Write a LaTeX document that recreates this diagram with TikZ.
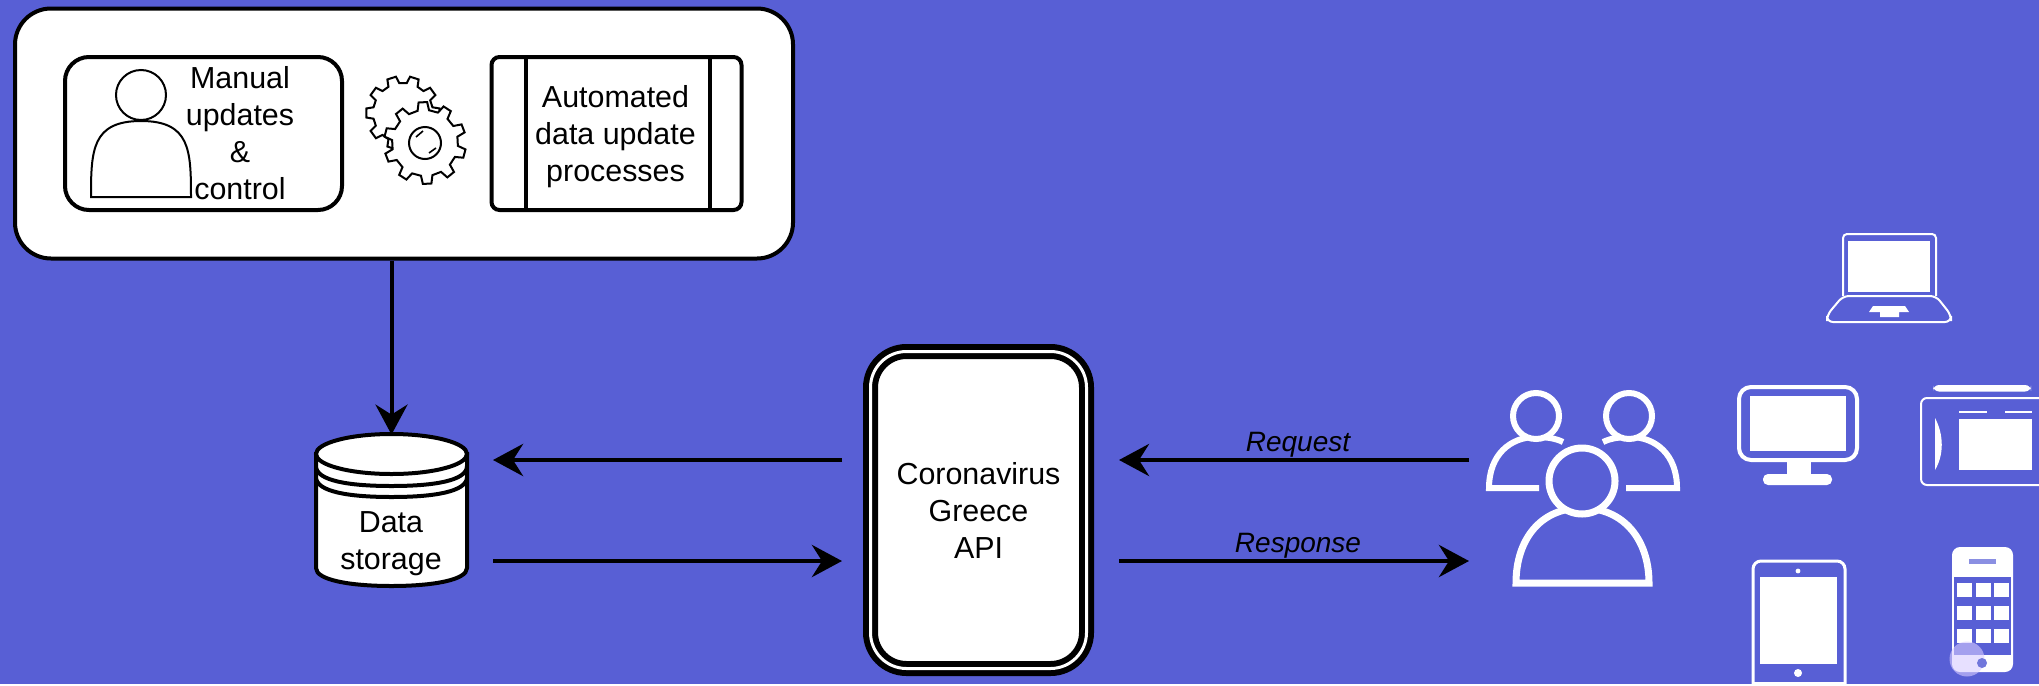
\documentclass[tikz,border=0pt]{standalone}
\usepackage{tikz}
\usepackage{fontspec}
\setmainfont{Liberation Sans}
\usetikzlibrary{arrows.meta,calc,positioning}
\definecolor{backblue}{HTML}{585FD5}
\definecolor{glowviolet}{HTML}{D8CCFF}

\begin{document}
\begin{tikzpicture}[
	  x=0.5pt,y=-0.5pt,
	  every node/.style={align=center,text=black,font=\fontsize{15.2}{18.5}\selectfont},
	  panel/.style={draw=black,line width=2pt,fill=white,rounded corners=18pt,minimum width=389pt,minimum height=125pt},
	  tool/.style={draw=black,line width=2pt,fill=white,minimum width=125pt,minimum height=76.5pt},
	  engine/.style={draw=black,line width=3pt,double=white,double distance=1.5pt,rounded corners=18pt,fill=white,minimum width=108pt,minimum height=158.5pt},
	  label/.style={font=\fontsize{14}{16}\selectfont\itshape},
	  flow/.style={-{Stealth[length=15pt,width=16pt,inset=5pt]},draw=black,line width=2.4pt},
	  outline/.style={draw=black,line width=1pt,fill=white},
	  drum/.style={draw=black,line width=2pt,fill=white},
	  folk/.style={draw=white,line width=3pt,fill=backblue},
	  thinwhite/.style={draw=white,line width=1pt},
	  solidwhite/.style={fill=white}]

	  % Background fixes the size of the page
	  \path[fill=backblue] (0,0) rectangle (2039,684);

	  % Top panel with its two boxes
	  \node[panel] (panel) at (404,133.5) {};
	  \node[tool,rounded corners=12pt,minimum width=138.5pt] (manual) at (203.5,133.5) {};
	  \node[tool,rounded corners=4pt] (auto) at (616.5,133.5) {};
	  \draw[line width=2pt] ([xshift=18pt]auto.north west) -- ([xshift=18pt]auto.south west);
	  \draw[line width=2pt] ([xshift=-17pt]auto.north east) -- ([xshift=-17pt]auto.south east);
	  \node (manuallabel) at (240,133.5) {Manual\\updates\\\&\\control};
	  \node (autolabel) at (615.5,136.5) {Automated\\data update\\processes};

	  % Person in the manual box
	  \draw[outline] (91,197) .. controls (91,150) and (92,121) .. (141,121) .. controls (190,121) and (191,150) .. (191,197) -- cycle;
	  \draw[outline] (141,95) circle[radius=12.5pt];

	  % Two gears, the larger one in front
	  \draw[outline] ($(403,113)+(-11:30)$) \foreach \a in {0,36,...,324} {
	      -- ($(403,113)+(\a-11:30)$) -- ($(403,113)+(\a-7:37)$) -- ($(403,113)+(\a+7:37)$) -- ($(403,113)+(\a+11:30)$)
	    } -- cycle;
	  \draw[outline] ($(425,143)+(5:33)$) \foreach \a in {15,51,...,339} {
	      -- ($(425,143)+(\a-10:33)$) -- ($(425,143)+(\a-6:41)$) -- ($(425,143)+(\a+6:41)$) -- ($(425,143)+(\a+10:33)$)
	    } -- cycle;
	  \draw[outline] (425,143) circle[radius=8pt];
	  \draw[line width=0.8pt] (416,137) -- (423,131) (429,153) -- (436,148);

	  % Data storage drawn as a stack of discs
	  \node[minimum width=75.5pt,minimum height=76pt,inner sep=0pt] (store) at (391.5,511) {};
	  \draw[drum] (316,454) -- (316,568) .. controls (316,580) and (350,586) .. (391.5,586) .. controls (433,586) and (467,580) .. (467,568) -- (467,454) -- cycle;
	  \foreach \y in {497,486} {
	    \draw[drum] (316,\y-20) .. controls (316,\y-5) and (350,\y) .. (391.5,\y) .. controls (433,\y) and (467,\y-5) .. (467,\y-20);
	  }
	  \draw[drum] (391.5,454) ellipse[x radius=37.75pt,y radius=10pt];
	  \node (storelabel) at (391,544) {Data\\storage};

	  % API box
	  \node[engine] (api) at (978.5,510) {Coronavirus\\Greece\\API};

	  % Free ends of the arrows
	  \coordinate (storeout) at (493,460);
	  \coordinate (storein) at (493,561);
	  \coordinate (apileftout) at (842,561);
	  \coordinate (apileftin) at (842,460);
	  \coordinate (apirightin) at (1119,460);
	  \coordinate (apirightout) at (1119,561);
	  \coordinate (usersin) at (1469,460);
	  \coordinate (usersout) at (1469,561);

	  \draw[flow,line width=2pt] (panel.south -| store.north) -- (store.north);
	  \draw[flow] (apileftin) -- (storeout);
	  \draw[flow] (storein) -- (apileftout);
	  \draw[flow] (usersin) -- node[midway,above=-3pt,xshift=2pt,label] (request) {Request} (apirightin);
	  \draw[flow] (apirightout) -- node[midway,above=-3pt,xshift=2pt,label] (response) {Response} (usersout);

	  % Group of users
	  \draw[folk] (1539,488) -- (1489,488) .. controls (1489,455) and (1510,437) .. (1536,437) .. controls (1545,437) and (1555,438) .. (1563,442);
	  \draw[folk] (1626,488) -- (1677,488) .. controls (1677,455) and (1656,437) .. (1630,437) .. controls (1621,437) and (1611,438) .. (1603,442);
	  \draw[folk] (1536,416) circle[radius=11.5pt];
	  \draw[folk] (1629,416) circle[radius=11.5pt];
	  \draw[folk,line width=3.5pt] (1516,583) .. controls (1516,540) and (1540,508) .. (1582,508) .. controls (1624,508) and (1649,540) .. (1649,583) -- cycle;
	  \draw[folk,line width=3.5pt] (1582,481) circle[radius=16.5pt];

	  % Laptop
	  \draw[thinwhite,rounded corners=2pt] (1843,296) -- (1843,234) -- (1936,234) -- (1936,296);
	  \draw[thinwhite,rounded corners=3pt] (1843,296) -- (1936,296) -- (1951,315) -- (1951,322) -- (1827,322) -- (1827,315) -- cycle;
	  \path[solidwhite] (1848,241) rectangle (1930,292);
	  \path[solidwhite] (1873,306) -- (1905,306) -- (1909,312) -- (1899,312) -- (1899,317) -- (1880,317) -- (1880,312) -- (1869,312) -- cycle;

	  % Monitor
	  \draw[draw=white,line width=2pt,rounded corners=6pt] (1739,387) rectangle (1857,460);
	  \path[solidwhite] (1750,396) rectangle (1846,451);
	  \path[solidwhite] (1787,460) rectangle (1811,477);
	  \path[solidwhite,rounded corners=2.5pt] (1763,474) rectangle (1832,485);

	  % Drawing tablet, cut by the page edge
	  \begin{scope}
	    \clip (0,0) rectangle (2039,684);
	    \draw[thinwhite,rounded corners=3pt] (2045,398) -- (1921,398) -- (1921,485) -- (2045,485);
	    \path[solidwhite,rounded corners=3pt] (1933,385) rectangle (2031,391.5);
	    \path[solidwhite] (1959,419) rectangle (2032,470);
	    \draw[thinwhite] (1959,412) -- (1987,412) (2005,412) -- (2032,412);
	    \path[solidwhite] (1935,418) .. controls (1944,435) and (1944,455) .. (1935,470) -- cycle;
	  \end{scope}

	  % Upright tablet, cut by the page edge
	  \draw[draw=white,line width=1.5pt,rounded corners=4pt] (1753,684) -- (1753,561) -- (1845,561) -- (1845,684);
	  \draw[draw=white,line width=1.5pt] (1753,683) -- (1845,683);
	  \path[solidwhite] (1760,577) rectangle (1837,664);
	  \path[solidwhite] (1798,571) circle[radius=1.2pt];
	  \path[solidwhite] (1798,673) circle[radius=2pt];

	  % Phone
	  \path[solidwhite,rounded corners=4pt] (1952,547) rectangle (2013,672);
	  \path[fill=backblue] (1954,577) rectangle (2011,655);
	  \path[fill=backblue!70!white] (1969,559) rectangle (1996,564);
	  \foreach \y in {590,613,636} {
	    \foreach \x in {1964.5,1983,2001.5} {
	      \path[solidwhite] (\x-7.5,\y-7) rectangle (\x+7.5,\y+7);
	    }
	  }
	  \path[fill=glowviolet,opacity=0.6] (1967,659) circle[radius=8.75pt];
	  \path[fill=backblue!85!white] (1982,663) circle[radius=2.5pt];
\end{tikzpicture}
\end{document}
